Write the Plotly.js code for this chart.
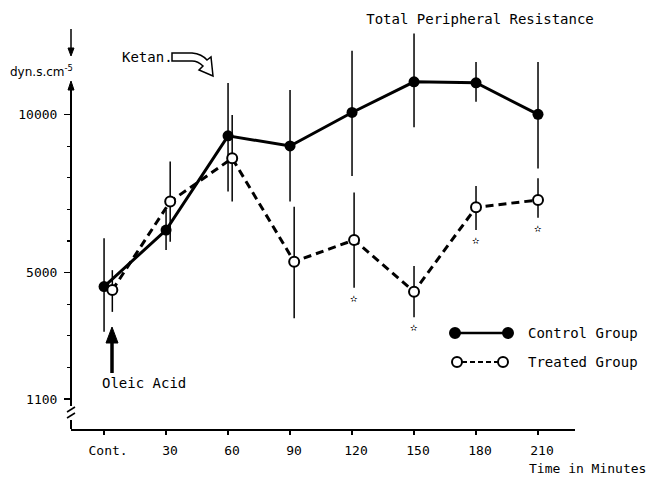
<!DOCTYPE html>
<html>
<head>
<meta charset="utf-8">
<script src="https://cdn.plot.ly/plotly-3.0.1.min.js"></script>
<style>html,body{margin:0;padding:0;background:#fff;}#chart{width:650px;height:481px;}</style>
</head>
<body>
<div id="chart"></div>
<script>
// ---- data ----
const timeLabels = ['Cont.', '30', '60', '90', '120', '150', '180', '210'];
const times = [0, 30, 60, 90, 120, 150, 180, 210];
const treatedTimes = [4, 32, 62, 92, 121, 150, 180, 210];

const control = [4560, 6350, 9330, 9010, 10070, 11040, 11010, 10010];
const controlErrPlus = [1530, 630, 1670, 1770, 1950, 1530, 660, 1660];
const controlErrMinus = [1425, 630, 1760, 1760, 2010, 1440, 600, 1710];

const treated = [4450, 7250, 8620, 5350, 6035, 4400, 7070, 7300];
const treatedErrPlus = [630, 1270, 1370, 1740, 1500, 810, 670, 690];
const treatedErrMinus = [690, 1270, 1370, 1790, 1510, 810, 720, 560];
const significance = ['', '', '', '', '\u272B', '\u272B', '\u272B', '\u272B'];

const yTickVals = [1000, 5000, 10000];
const yTickText = ['1100', '5000', '10000'];
const yMinorVals = [2000, 3000, 4000, 6000, 7000, 8000, 9000];

// ---- layout geometry helpers (pixel -> paper) ----
const W = 650, H = 481;
const M = {l: 71, r: 75, t: 25, b: 52};
const PW = W - M.l - M.r, PH = H - M.t - M.b;
const PX = x => (x - M.l) / PW;
const PY = y => (H - M.b - y) / PH;
const FONT = 'DejaVu Sans Mono, Liberation Mono, monospace';

const traces = [
  {
    x: times, y: control, name: 'Control Group', type: 'scatter', mode: 'lines+markers',
    line: {color: '#000', width: 3},
    marker: {size: 11, color: '#000'},
    error_y: {type: 'data', symmetric: false, array: controlErrPlus, arrayminus: controlErrMinus,
              thickness: 1.5, width: 0, color: '#000'},
    showlegend: false, hoverinfo: 'skip'
  },
  {
    x: treatedTimes, y: treated, name: 'Treated Group', type: 'scatter', mode: 'lines+markers',
    line: {color: '#000', width: 3, dash: '8px,5px'},
    marker: {size: 10, color: '#fff', line: {color: '#000', width: 2}},
    error_y: {type: 'data', symmetric: false, array: treatedErrPlus, arrayminus: treatedErrMinus,
              thickness: 1.5, width: 0, color: '#000'},
    showlegend: false, hoverinfo: 'skip'
  }
];

const annotations = [];
// significance stars under treated error bars
significance.forEach((s, i) => {
  if (!s) return;
  annotations.push({x: treatedTimes[i], y: treated[i] - treatedErrMinus[i], xref: 'x', yref: 'y',
    text: s, showarrow: false, yshift: -11, font: {family: 'DejaVu Sans', size: 9, color: '#000'}});
});
// text labels
annotations.push(
  {x: PX(8), y: PY(71), xref: 'paper', yref: 'paper', xanchor: 'left', yanchor: 'middle',
   text: 'dyn.s.cm<sup>-5</sup>', showarrow: false, font: {family: 'DejaVu Sans', size: 12, color: '#000'}},
  {x: PX(147), y: PY(57), xref: 'paper', yref: 'paper', xanchor: 'center', yanchor: 'middle',
   text: 'Ketan.', showarrow: false, font: {family: FONT, size: 14, color: '#000'}},
  {x: PX(144), y: PY(383), xref: 'paper', yref: 'paper', xanchor: 'center', yanchor: 'middle',
   text: 'Oleic Acid', showarrow: false, font: {family: FONT, size: 14, color: '#000'}},
  {x: PX(648), y: PY(468), xref: 'paper', yref: 'paper', xanchor: 'right', yanchor: 'middle',
   text: 'Time in Minutes', showarrow: false, font: {family: FONT, size: 13, color: '#000'}},
  {x: PX(526), y: PY(333), xref: 'paper', yref: 'paper', xanchor: 'left', yanchor: 'middle',
   text: 'Control Group', showarrow: false, font: {family: FONT, size: 14, color: '#000'}},
  {x: PX(526), y: PY(362), xref: 'paper', yref: 'paper', xanchor: 'left', yanchor: 'middle',
   text: 'Treated Group', showarrow: false, font: {family: FONT, size: 14, color: '#000'}}
);

const P = (x, y) => PX(x) + ',' + PY(y);
const ketanPath = 'M' + P(172, 53) + ' L' + P(192, 53) + ' Q' + P(202, 54) + ' ' + P(207, 60) +
  ' L' + P(211, 57) + ' L' + P(213, 76) + ' L' + P(199, 70) + ' L' + P(203, 66) +
  ' Q' + P(198, 61) + ' ' + P(192, 61) + ' L' + P(172, 61) + ' Z';

function circ(cx, cy, r, fill) {
  return {type: 'circle', xref: 'paper', yref: 'paper', x0: PX(cx - r), x1: PX(cx + r), y0: PY(cy + r), y1: PY(cy - r),
          fillcolor: fill, line: {color: '#000', width: 2}};
}
function seg(x0, y0, x1, y1, w, dash) {
  return {type: 'line', xref: 'paper', yref: 'paper', x0: PX(x0), y0: PY(y0), x1: PX(x1), y1: PY(y1),
          line: {color: '#000', width: w, dash: dash || 'solid'}};
}
function tri(a, b, c) {
  return {type: 'path', xref: 'paper', yref: 'paper', path: 'M' + P(a[0], a[1]) + ' L' + P(b[0], b[1]) + ' L' + P(c[0], c[1]) + ' Z',
          fillcolor: '#000', line: {color: '#000', width: 1}};
}

const shapes = [
  // y axis with breaks and dimension arrows
  seg(71, 86, 71, 406, 2),
  tri([68, 90], [74, 90], [71, 81]),
  seg(71, 29, 71, 50, 1.5),
  tri([68, 48], [74, 48], [71, 56]),
  seg(71, 420, 71, 429, 2),
  seg(67, 412, 75, 407, 1.5),
  seg(67, 418, 75, 413, 1.5),
  // Ketan arrow
  {type: 'path', xref: 'paper', yref: 'paper', path: ketanPath, fillcolor: '#fff', line: {color: '#000', width: 1.5}},
  // Oleic acid arrow
  seg(112, 373, 112, 340, 3.5),
  tri([106, 343], [118, 343], [112, 327]),
  // custom legend
  seg(455, 333, 508, 333, 2.5),
  circ(455, 333, 5, '#000'),
  circ(508, 333, 5, '#000'),
  seg(462, 362, 498, 362, 2, '5px,3px'),
  circ(457, 362, 5, '#fff'),
  circ(503, 362, 5, '#fff')
];

const layout = {
  width: W, height: H,
  margin: M,
  paper_bgcolor: '#fff', plot_bgcolor: '#fff',
  showlegend: false,
  title: {text: 'Total Peripheral Resistance', font: {family: FONT, size: 14, color: '#000'},
          x: 480 / W, xref: 'container', xanchor: 'center', y: 1 - 19 / H, yref: 'container', yanchor: 'middle'},
  xaxis: {
    range: [-16, 227.9], tickmode: 'array', tickvals: times, ticktext: timeLabels,
    showline: true, linecolor: '#000', linewidth: 2, showgrid: false, zeroline: false,
    ticks: 'outside', ticklen: 4, tickwidth: 1.5, tickcolor: '#000', ticklabelstandoff: 4, ticklabelshift: 4,
    tickfont: {family: FONT, size: 13, color: '#000'}, fixedrange: true
  },
  yaxis: {
    range: [54, 12838], tickmode: 'array', tickvals: yTickVals, ticktext: yTickText,
    showline: false, showgrid: false, zeroline: false,
    ticks: 'outside', ticklen: 6, tickwidth: 1.5, tickcolor: '#000', ticklabelstandoff: 4,
    minor: {tickmode: 'array', tickvals: yMinorVals, ticks: 'outside', ticklen: 3, tickwidth: 1.2, tickcolor: '#000'},
    tickfont: {family: FONT, size: 13, color: '#000'}, fixedrange: true
  },
  annotations: annotations,
  shapes: shapes
};

Plotly.newPlot('chart', traces, layout, {staticPlot: true, displayModeBar: false});
</script>
</body>
</html>
